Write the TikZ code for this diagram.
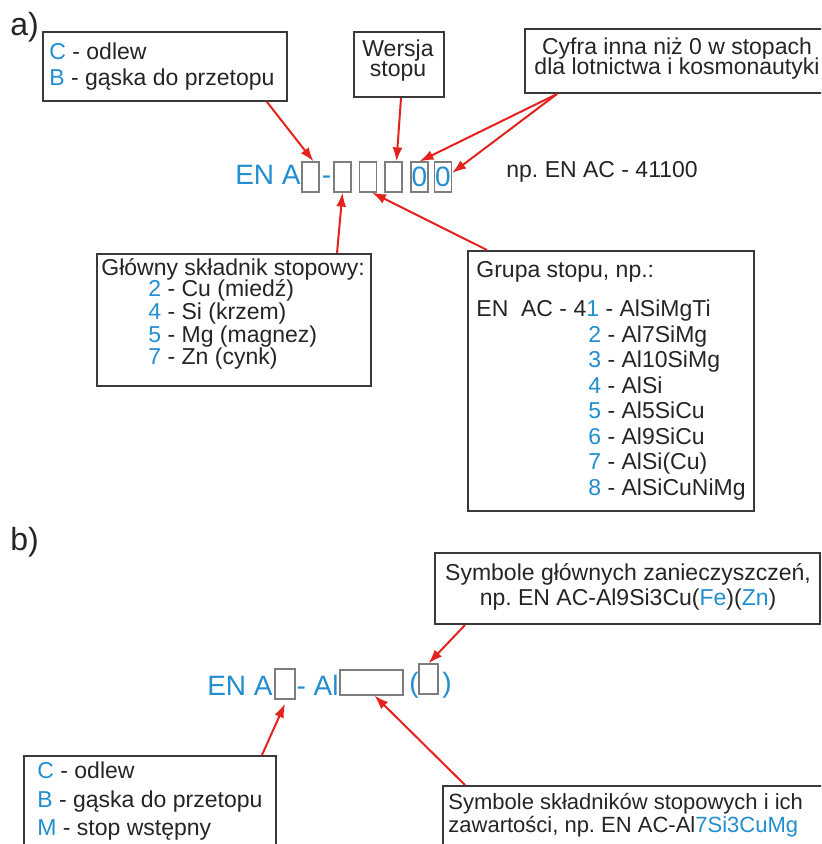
\documentclass[tikz,border=0pt]{standalone}
\usepackage{fontspec}
\setmainfont{Liberation Sans}
\usetikzlibrary{arrows.meta}
\frenchspacing
\definecolor{codeblue}{RGB}{32,142,208}
\definecolor{ptrred}{RGB}{228,34,30}
\definecolor{framegray}{RGB}{60,56,56}
\definecolor{slotgray}{RGB}{125,125,125}
\definecolor{ink}{RGB}{38,36,36}
\newcommand{\bodyfont}{\fontsize{11.5}{13}\selectfont}
\newcommand{\codefont}{\fontsize{14}{16}\selectfont}
\newcommand{\labfont}{\fontsize{16}{18}\selectfont}
\newcommand{\cb}[1]{{\color{codeblue}#1}}
\tikzset{
  frame/.style={draw=framegray, line width=1pt, fill=white, inner sep=0pt, anchor=north west},
  slot/.style={draw=slotgray, line width=0.6pt, inner sep=0pt, minimum width=8.5pt, minimum height=15pt, text=codeblue, font=\codefont},
  txt/.style={anchor=base west, inner sep=0pt, text=ink, font=\bodyfont},
  ctr/.style={txt, anchor=base},
  code/.style={anchor=base west, inner sep=0pt, text=codeblue, font=\codefont},
  ptr/.style={draw=ptrred, line width=1pt, -{Latex[length=7pt,width=5pt]}},
}
\begin{document}
\begin{tikzpicture}[x=0.5pt,y=-0.5pt]
    \useasboundingbox (0,0) rectangle (821,844);
    \fill[white] (0,0) rectangle (821,844);
    \clip (0,0) rectangle (821,844);

    % a)
    \node[txt, font=\labfont] (labA) at (10,36) {a)};

    \node[frame, minimum width=122pt, minimum height=34.5pt] (castA) at (42,31) {};
    \node[txt] (castA1) at (49,60) {\cb{C} - odlew};
    \node[txt] (castA2) at (49,86) {\cb{B} - gąska do przetopu};

    \node[frame, minimum width=45pt, minimum height=32.5pt] (versionA) at (353,31) {};
    \node[ctr] (versionA1) at (398,56.5) {Wersja};
    \node[ctr] (versionA2) at (398,77) {stopu};

    \node[frame, minimum width=150pt, minimum height=32pt] (aeroA) at (524,28) {};
    \node[ctr] (aeroA1) at (677,54.5) {Cyfra inna niż 0 w stopach};
    \node[ctr] (aeroA2) at (677,75) {dla lotnictwa i kosmonautyki};

    \node[code, anchor=base east] (enA) at (301,185) {EN A};
    \node[slot] (a1) at (310.5,177) {};
    \node[code, anchor=base] (dashA) at (326.5,185) {-};
    \node[slot] (a2) at (342.5,177) {};
    \node[slot] (a3) at (368,177) {};
    \node[slot] (a4) at (393.5,177) {};
    \node[slot] (a5) at (419.5,177) {0};
    \node[slot] (a6) at (443,177) {0};
    \node[txt] (exA) at (506,178) {np. EN AC - 41100};

    \node[frame, minimum width=137pt, minimum height=66pt] (alloyA) at (96,253) {};
    \node[txt] (alloyA0) at (101,276) {Główny składnik stopowy:};
    \node[txt] (alloyA1) at (148,297) {\cb{2} - Cu (miedź)};
    \node[txt] (alloyA2) at (148,319) {\cb{4} - Si (krzem)};
    \node[txt] (alloyA3) at (148,342) {\cb{5} - Mg (magnez)};
    \node[txt] (alloyA4) at (148,364) {\cb{7} - Zn (cynk)};

    \node[frame, minimum width=143pt, minimum height=130pt] (groupA) at (467,250) {};
    \node[txt] (groupA0) at (476,278) {Grupa stopu, np.:};
    \node[txt] (groupA1) at (476,316.5) {EN~~AC - 4\cb{1} - AlSiMgTi};
    \node[txt] (groupA2) at (588,342) {\cb{2} - Al7SiMg};
    \node[txt] (groupA3) at (588,367.5) {\cb{3} - Al10SiMg};
    \node[txt] (groupA4) at (588,393) {\cb{4} - AlSi};
    \node[txt] (groupA5) at (588,418.5) {\cb{5} - Al5SiCu};
    \node[txt] (groupA6) at (588,444) {\cb{6} - Al9SiCu};
    \node[txt] (groupA7) at (588,469.5) {\cb{7} - AlSi(Cu)};
    \node[txt] (groupA8) at (588,495) {\cb{8} - AlSiCuNiMg};

    \draw[ptr] ([xshift=-10.5pt]castA.south east) -- ([xshift=1.5pt]a1.north);
    \draw[ptr] ([xshift=1pt]versionA.south) -- ([xshift=1.5pt]a4.north);
    \draw[ptr] ([xshift=16.5pt]aeroA.south west) -- (a5.north);
    \draw[ptr] ([xshift=16.5pt]aeroA.south west) -- ([yshift=2pt]a6.east);
    \draw[ptr] ([xshift=-17.5pt]alloyA.north east) -- (a2.south);
    \draw[ptr] ([xshift=10pt]groupA.north west) -- ([xshift=2pt]a3.south);

    % b)
    \node[txt, font=\labfont] (labB) at (10,550) {b)};

    \node[frame, minimum width=192.5pt, minimum height=35.5pt] (impurB) at (434,552) {};
    \node[ctr] (impurB1) at (628,580) {Symbole głównych zanieczyszczeń,};
    \node[ctr] (impurB2) at (628,605) {np. EN AC-Al9Si3Cu(\cb{Fe})(\cb{Zn})};

    \node[code, anchor=base east] (enB) at (273,695) {EN A};
    \node[slot, minimum width=10pt] (b1) at (285,684) {};
    \node[code, anchor=base east] (alB) at (339,695) {- Al};
    \node[slot, minimum width=31.5pt, minimum height=12.5pt] (b2) at (371.5,682.5) {};
    \node[code] (lparB) at (409,692) {(};
    \node[slot, minimum width=9.5pt] (b3) at (428.5,679) {};
    \node[code] (rparB) at (442,692) {)};

    \node[frame, minimum width=126pt, minimum height=57.5pt] (castB) at (23,755) {};
    \node[txt] (castB1) at (37,778) {\cb{C} - odlew};
    \node[txt] (castB2) at (37,807) {\cb{B} - gąska do przetopu};
    \node[txt] (castB3) at (37,835) {\cb{M} - stop wstępny};

    \node[frame, minimum width=200pt, minimum height=50pt] (contB) at (442,785) {};
    \node[txt, font=\fontsize{11}{12}\selectfont] (contB1) at (448,809) {Symbole składników stopowych i ich};
    \node[txt, font=\fontsize{11}{12}\selectfont] (contB2) at (448,832) {zawartości, np. EN AC-Al\cb{7Si3CuMg}};

    \draw[ptr] ([xshift=-7.5pt]castB.north east) -- ([yshift=-2pt]b1.south);
    \draw[ptr] ([xshift=11.5pt]contB.north west) -- ([xshift=1.5pt]b2.south);
    \draw[ptr] ([xshift=15.5pt]impurB.south west) -- (b3.north);
\end{tikzpicture}
\end{document}
